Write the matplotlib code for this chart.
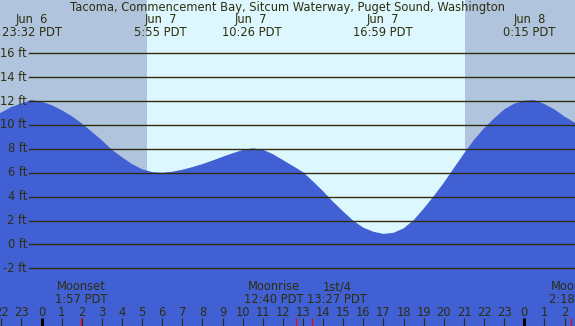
import matplotlib
matplotlib.use('Agg')
import matplotlib.pyplot as plt
import matplotlib.transforms as mtransforms

# Tide heights (ft), hours relative to Jun 7 00:00 PDT
hours = [-2.1, -1.5, -1, -0.5, 0, 0.5, 1, 1.5, 2, 2.5, 3, 3.5, 4, 4.5, 5, 5.5,
         6, 6.5, 7, 7.5, 8, 8.5, 9, 9.5, 10, 10.5, 11, 11.5, 12, 12.5, 13, 13.5,
         14, 14.5, 15, 15.5, 16, 16.5, 17, 17.5, 18, 18.5, 19, 19.5, 20, 20.5,
         21, 21.5, 22, 22.5, 23, 23.5, 24, 24.5, 25, 25.5, 26, 26.6]
heights = [10.95, 11.5, 11.8, 12.08, 11.95, 11.66, 11.24, 10.74, 10.13, 9.43,
           8.72, 7.92, 7.3, 6.72, 6.3, 6.05, 6.0, 6.08, 6.25, 6.47, 6.72, 7.02,
           7.33, 7.63, 7.9, 8.04, 7.93, 7.56, 7.06, 6.56, 6.05, 5.27, 4.45, 3.56,
           2.75, 1.98, 1.4, 1.06, 0.88, 0.97, 1.34, 2.03, 3.0, 4.04, 5.16, 6.39,
           7.6, 8.75, 9.72, 10.55, 11.3, 11.78, 12.03, 12.08, 11.75, 11.3, 10.7,
           10.1]

# high / low tide labels
ext_hours = [-0.47, 5.92, 10.43, 16.98, 24.25]
ext_days = ['Jun  6', 'Jun  7', 'Jun  7', 'Jun  7', 'Jun  8']
ext_times = ['23:32 PDT', '5:55 PDT', '10:26 PDT', '16:59 PDT', '0:15 PDT']

# sunrise / sunset
sunrise = 5.23
sunset = 21.05

# moon events
moon_hours = [1.95, 12.67, 13.45, 26.3]
moon_label_x = [1.96, 11.56, 14.68, 26.55]
moon_names = ['Moonset', 'Moonrise', '1st/4', 'Moonset']
moon_times = ['1:57 PDT', '12:40 PDT', '13:27 PDT', '2:18 PDT']

y_ticks = [-2, 0, 2, 4, 6, 8, 10, 12, 14, 16]
hour_ticks = list(range(-2, 27))

title = 'Tacoma, Commencement Bay, Sitcum Waterway, Puget Sound, Washington'

W, H = 575, 326
night = '#B0C4DE'
day = '#DDF7FE'
water = '#4060D4'
ink = '#2E2E0E'
fs = 8.3

fig = plt.figure(figsize=(W / 100, H / 100), dpi=100, facecolor=night)
ax = fig.add_axes([0, 0, 1, 1])
ax.set_xlim(-2.063, 26.52)
ax.set_ylim(-6.83, 20.46)
ax.axis('off')

ax.axvspan(sunrise, sunset, color=day, lw=0, zorder=1)
ax.fill_between(hours, heights, -10, color=water, lw=0, zorder=2)

# grid lines and height labels
for y in y_ticks:
    ax.axhline(y, xmin=29 / W, xmax=1, color=ink, lw=1.0, zorder=3)
    ax.annotate(f'{y} ft', xy=(27 / W, y), xycoords=('axes fraction', 'data'),
                ha='right', va='center', fontsize=fs, color=ink, zorder=4)

fig_y = mtransforms.blended_transform_factory(ax.transData, fig.transFigure)

def py(p):
    return 1 - p / H

# title and extremes
fig.text(0.5, py(7.3), title, ha='center', va='center', fontsize=fs, color=ink)
for h, d, t in zip(ext_hours, ext_days, ext_times):
    ax.text(h, py(20), d, transform=fig_y, ha='center', va='center', fontsize=fs, color=ink)
    ax.text(h, py(32.3), t, transform=fig_y, ha='center', va='center', fontsize=fs, color=ink)

# moon events
for x, n, t in zip(moon_label_x, moon_names, moon_times):
    ax.text(x, py(287), n, transform=fig_y, ha='center', va='center', fontsize=fs, color=ink)
    ax.text(x, py(299.5), t, transform=fig_y, ha='center', va='center', fontsize=fs, color=ink)

# hour ticks
for h in hour_ticks:
    ax.text(h, py(312), str(h % 24), transform=fig_y, ha='center', va='center',
            fontsize=fs, color=ink)
    midnight = h % 24 == 0
    ax.plot([h, h], [py(318), 0], transform=fig_y, color='black' if midnight else ink,
            lw=2.2 if midnight else 0.8, solid_capstyle='butt', zorder=5)
for h in moon_hours:
    ax.plot([h, h], [py(318), 0], transform=fig_y, color='red', lw=0.8,
            solid_capstyle='butt', zorder=6)

fig.savefig('out.png', dpi=100, facecolor=night)
